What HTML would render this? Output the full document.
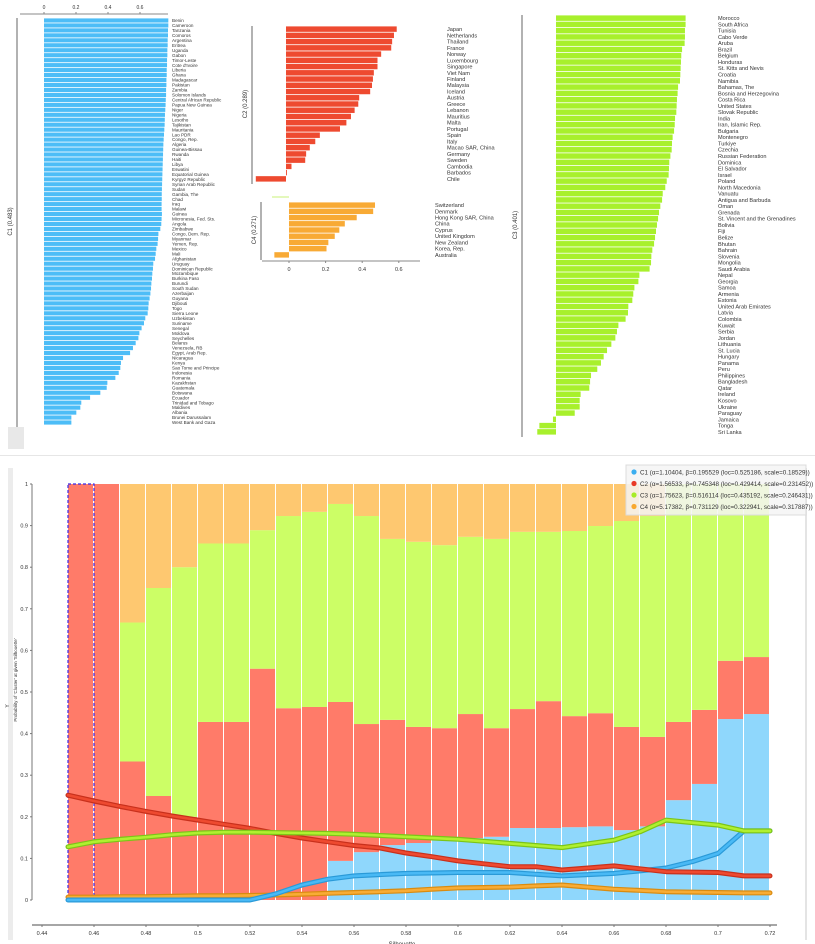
<!DOCTYPE html>
<html><head><meta charset="utf-8"><style>
html,body{margin:0;padding:0;background:#fff;}
svg{display:block;font-family:"Liberation Sans",sans-serif;}
</style></head><body>
<svg id="root" width="815" height="944" viewBox="0 0 815 944" xmlns="http://www.w3.org/2000/svg">
<rect x="0" y="0" width="815" height="944" fill="#fff"/>
<g id="topPanels"></g>
<rect x="0" y="455" width="815" height="1" fill="#e6e6e6"/>
<rect x="8" y="468" width="5" height="472" fill="#ececec"/>
<rect x="805" y="468" width="2" height="472" fill="#e4e4e4"/>
<g id="bottomChart"></g>
</svg>
<script>
const c1Names = ["Benin","Cameroon","Tanzania","Comoros","Argentina","Eritrea","Uganda","Gabon","Timor-Leste","Cote d'Ivoire","Liberia","Ghana","Madagascar","Pakistan","Zambia","Solomon Islands","Central African Republic","Papua New Guinea","Niger","Nigeria","Lesotho","Tajikistan","Mauritania","Lao PDR","Congo, Rep.","Algeria","Guinea-Bissau","Rwanda","Haiti","Libya","Eswatini","Equatorial Guinea","Kyrgyz Republic","Syrian Arab Republic","Sudan","Gambia, The","Chad","Iraq","Malawi","Guinea","Micronesia, Fed. Sts.","Angola","Zimbabwe","Congo, Dem. Rep.","Myanmar","Yemen, Rep.","Mexico","Mali","Afghanistan","Uruguay","Dominican Republic","Mozambique","Burkina Faso","Burundi","South Sudan","Azerbaijan","Guyana","Djibouti","Togo","Sierra Leone","Uzbekistan","Suriname","Senegal","Moldova","Seychelles","Belarus","Venezuela, RB","Egypt, Arab Rep.","Nicaragua","Kenya","Sao Tome and Principe","Indonesia","Romania","Kazakhstan","Guatemala","Botswana","Ecuador","Trinidad and Tobago","Maldives","Albania","Brunei Darussalam","West Bank and Gaza"];
const c1Values = [.777,.777,.775,.775,.773,.773,.771,.771,.769,.769,.767,.767,.765,.765,.763,.763,.761,.76,.758,.756,.755,.754,.752,.75,.748,.746,.745,.744,.743,.742,.741,.74,.739,.738,.737,.736,.736,.735,.735,.737,.735,.733,.727,.715,.713,.710,.702,.698,.694,.683,.681,.677,.675,.671,.669,.665,.660,.654,.652,.648,.633,.625,.610,.596,.590,.573,.556,.538,.494,.481,.477,.467,.446,.396,.392,.352,.288,.233,.227,.202,.171,.171];
const c2Names = ["Japan","Netherlands","Thailand","France","Norway","Luxembourg","Singapore","Viet Nam","Finland","Malaysia","Iceland","Austria","Greece","Lebanon","Mauritius","Malta","Portugal","Spain","Italy","Macao SAR, China","Germany","Sweden","Cambodia","Barbados","Chile"];
const c2Values = [.605,.59,.58,.575,.52,.5,.5,.48,.475,.47,.46,.40,.395,.375,.355,.33,.295,.185,.16,.13,.11,.105,.03,.005,-.165];
const c4Names = ["Switzerland","Denmark","Hong Kong SAR, China","China","Cyprus","United Kingdom","New Zealand","Korea, Rep.","Australia"];
const c4Values = [.47,.46,.37,.305,.275,.25,.215,.205,-.08];
const c3Names = ["Morocco","South Africa","Tunisia","Cabo Verde","Aruba","Brazil","Belgium","Honduras","St. Kitts and Nevis","Croatia","Namibia","Bahamas, The","Bosnia and Herzegovina","Costa Rica","United States","Slovak Republic","India","Iran, Islamic Rep.","Bulgaria","Montenegro","Turkiye","Czechia","Russian Federation","Dominica","El Salvador","Israel","Poland","North Macedonia","Vanuatu","Antigua and Barbuda","Oman","Grenada","St. Vincent and the Grenadines","Bolivia","Fiji","Belize","Bhutan","Bahrain","Slovenia","Mongolia","Saudi Arabia","Nepal","Georgia","Samoa","Armenia","Estonia","United Arab Emirates","Latvia","Colombia","Kuwait","Serbia","Jordan","Lithuania","St. Lucia","Hungary","Panama","Peru","Philippines","Bangladesh","Qatar","Ireland","Kosovo","Ukraine","Paraguay","Jamaica","Tonga","Sri Lanka"];
const c3Values = [.81,.81,.806,.806,.804,.788,.783,.781,.779,.777,.775,.763,.76,.756,.754,.752,.744,.742,.738,.729,.725,.723,.715,.708,.706,.704,.692,.683,.667,.663,.652,.644,.638,.631,.625,.619,.613,.602,.596,.594,.585,.521,.515,.49,.483,.477,.452,.45,.435,.39,.381,.371,.346,.319,.298,.281,.258,.219,.213,.208,.154,.148,.148,.117,-.019,-.104,-.117];
const topTicks = [0,0.2,0.4,0.6];
const topTickLabels = ["0","0.2","0.4","0.6"];

const binStarts = [.45,.46,.47,.48,.49,.50,.51,.52,.53,.54,.55,.56,.57,.58,.59,.60,.61,.62,.63,.64,.65,.66,.67,.68,.69,.70,.71];
const shareC1 = [0,0,0,0,0,0,0,0,0,0,.094,.115,.132,.137,.144,.149,.152,.173,.173,.175,.177,.168,.177,.24,.279,.435,.447];
const shareC2 = [1,1,.333,.25,.2,.428,.428,.556,.461,.464,.382,.308,.301,.279,.269,.298,.261,.286,.305,.267,.272,.248,.215,.188,.178,.14,.137];
const shareC3 = [0,0,.334,.5,.6,.429,.429,.333,.462,.469,.476,.5,.435,.445,.44,.426,.455,.426,.407,.445,.45,.495,.531,.572,.543,.425,.416];
const curveX = [.45,.46,.47,.48,.49,.50,.51,.52,.53,.54,.55,.56,.57,.58,.59,.60,.61,.62,.63,.64,.65,.66,.67,.68,.69,.70,.71,.72];
const curveC1 = [0,0,0,0,0,0,0,0,.015,.036,.05,.058,.061,.064,.065,.066,.066,.066,.062,.058,.061,.064,.07,.077,.092,.112,.166,.166];
const curveC2 = [.252,.238,.225,.213,.202,.192,.182,.172,.160,.149,.14,.131,.125,.113,.104,.094,.087,.08,.08,.072,.077,.082,.075,.068,.067,.066,.058,.058];
const curveC3 = [.128,.14,.146,.151,.157,.161,.163,.163,.162,.161,.16,.158,.155,.152,.149,.146,.141,.136,.131,.126,.135,.144,.164,.192,.186,.18,.166,.166];
const curveC4 = [.007,.007,.008,.008,.009,.01,.01,.011,.012,.014,.016,.018,.02,.022,.026,.029,.03,.031,.034,.036,.031,.026,.023,.02,.019,.018,.017,.017];
const xTicks = [.44,.46,.48,.50,.52,.54,.56,.58,.60,.62,.64,.66,.68,.70,.72];
const xTickLabels = ["0.44","0.46","0.48","0.5","0.52","0.54","0.56","0.58","0.6","0.62","0.64","0.66","0.68","0.7","0.72"];
const yTicks = [0,.1,.2,.3,.4,.5,.6,.7,.8,.9,1];
const yTickLabels = ["0","0.1","0.2","0.3","0.4","0.5","0.6","0.7","0.8","0.9","1"];
const legendLabels = ["C1 (\u03b1=1.10404, \u03b2=0.195529 (loc=0.525186, scale=0.18529))","C2 (\u03b1=1.56533, \u03b2=0.745348 (loc=0.429414, scale=0.231452))","C3 (\u03b1=1.75623, \u03b2=0.516114 (loc=0.435192, scale=0.246431))","C4 (\u03b1=5.17382, \u03b2=0.731129 (loc=0.322941, scale=0.317887))"];

const NS = "http://www.w3.org/2000/svg";
function mk(tag, attrs, parent) {
  const e = document.createElementNS(NS, tag);
  for (const k in attrs) e.setAttribute(k, attrs[k]);
  parent.appendChild(e);
  return e;
}
const topG = document.getElementById('topPanels');
const botG = document.getElementById('bottomChart');

function panel(names, values, cfg, key) {
  const g = mk('g', {}, topG);
  
  
  const n = names.length;
  const step = (cfg.y1 - cfg.y0) / n;
  const sx = v => cfg.zero + v * cfg.scale;
  for (let i = 0; i < n; i++) {
    const v = values[i];
    const x0 = Math.min(sx(0), sx(v)), w = Math.abs(sx(v) - sx(0));
    const r = mk('rect', {x: x0, y: cfg.y0 + i * step + 0.4, width: Math.max(w, 0.6), height: step - 0.8, fill: cfg.color}, g);
    
    
    const t = mk('text', {x: cfg.labelX, y: cfg.y0 + i * step + step / 2 + cfg.fs * 0.35, 'font-size': cfg.fs, fill: '#333'}, g);
    t.textContent = names[i];
    
    
  }
  const ax = mk('line', {x1: cfg.axisX, x2: cfg.axisX, y1: cfg.y0, y2: cfg.y1 + 2, stroke: '#999', 'stroke-width': 1.5}, g);
  
  
  const cy = (cfg.y0 + cfg.y1) / 2;
  const lab = mk('text', {x: cfg.axisX - 5, y: cy, 'font-size': 6, fill: '#333', 'text-anchor': 'middle', transform: 'rotate(-90 ' + (cfg.axisX - 5) + ' ' + cy + ')'}, g);
  lab.textContent = cfg.title;
  
  
  return sx;
}

const sx1 = panel(c1Names, c1Values, {zero: 44, scale: 160, y0: 18, y1: 425, color: '#4dbdf7', labelX: 172, fs: 4.6, axisX: 17, title: 'C1 (0.483)'}, 'c1');
const sx2 = panel(c2Names, c2Values, {zero: 286, scale: 183, y0: 26, y1: 182, color: '#ee4a30', labelX: 447, fs: 5.6, axisX: 252, title: 'C2 (0.289)'}, 'c2');
const sx4 = panel(c4Names, c4Values, {zero: 289, scale: 183, y0: 202, y1: 258, color: '#f8aa35', labelX: 435, fs: 5.6, axisX: 261, title: 'C4 (0.271)'}, 'c4');
const sx3 = panel(c3Names, c3Values, {zero: 556, scale: 160, y0: 15, y1: 435, color: '#a8f02c', labelX: 718, fs: 5.6, axisX: 522, title: 'C3 (0.401)'}, 'c3');

const a1 = mk('line', {x1: 20, x2: 168, y1: 14, y2: 14, stroke: '#888', 'stroke-width': 1}, topG);


topTicks.forEach((v, i) => {
  mk('line', {x1: sx1(v), x2: sx1(v), y1: 12, y2: 14, stroke: '#888'}, topG);
  const t = mk('text', {x: sx1(v), y: 9, 'font-size': 5, fill: '#333', 'text-anchor': 'middle'}, topG);
  t.textContent = topTickLabels[i];
  
  
});
const a4 = mk('line', {x1: 262, x2: 420, y1: 261, y2: 261, stroke: '#888', 'stroke-width': 1}, topG);


topTicks.forEach((v, i) => {
  mk('line', {x1: sx4(v), x2: sx4(v), y1: 261, y2: 263, stroke: '#888'}, topG);
  const t = mk('text', {x: sx4(v), y: 271, 'font-size': 5.5, fill: '#333', 'text-anchor': 'middle'}, topG);
  t.textContent = topTickLabels[i];
  
  
});
mk('line', {x1: 272, x2: 289, y1: 197, y2: 197, stroke: '#c8f07a', 'stroke-width': 1}, topG);
mk('rect', {x: 8, y: 427, width: 16, height: 22, fill: '#e8e8e8'}, topG);

const X = v => 42 + (v - 0.44) * 2600;
const Y = v => 900 - v * 416;
const binW = 0.01;
for (let i = 0; i < binStarts.length; i++) {
  const x0 = X(binStarts[i]), w = X(binStarts[i] + binW) - x0;
  const c4 = 1 - shareC1[i] - shareC2[i] - shareC3[i];
  const parts = [[shareC1[i], '#8fd7fc', 'c1'], [shareC2[i], '#ff7b69', 'c2'], [shareC3[i], '#ccfe66', 'c3'], [c4, '#fec870', 'c4']];
  let cum = 0;
  parts.forEach(p => {
    if (p[0] > 0.0005) {
      const r = mk('rect', {x: x0, y: Y(cum + p[0]), width: w - 1, height: Y(cum) - Y(cum + p[0]), fill: p[1]}, botG);
      
      
    }
    cum += p[0];
  });
}
const sel = mk('rect', {x: X(.45), y: Y(1), width: X(.46) - X(.45), height: Y(0) - Y(1), fill: 'none', stroke: '#3a2ae8', 'stroke-width': 1.2, 'stroke-dasharray': '3,2'}, botG);



function curve(vals, dark, light, key) {
  const pts = curveX.map((x, i) => X(x).toFixed(1) + ',' + Y(vals[i]).toFixed(1)).join(' ');
  const a = mk('polyline', {points: pts, fill: 'none', stroke: dark, 'stroke-width': 5, 'stroke-linejoin': 'round', 'stroke-linecap': 'round'}, botG);
  
  
  const b = mk('polyline', {points: pts, fill: 'none', stroke: light, 'stroke-width': 2.6, 'stroke-linejoin': 'round', 'stroke-linecap': 'round'}, botG);
  
  
}
curve(curveC4, '#d98b10', '#f8ac35', 'c4');
curve(curveC1, '#2a9ad8', '#49b9f5', 'c1');
curve(curveC2, '#c8301c', '#ee4a30', 'c2');
curve(curveC3, '#7cc418', '#b0f030', 'c3');

const yax = mk('line', {x1: 32, x2: 32, y1: Y(1), y2: Y(0), stroke: '#777', 'stroke-width': 1}, botG);


yTicks.forEach((v, i) => {
  mk('line', {x1: 30, x2: 32, y1: Y(v), y2: Y(v), stroke: '#777'}, botG);
  const t = mk('text', {x: 28, y: Y(v) + 2, 'font-size': 5.5, fill: '#333', 'text-anchor': 'end'}, botG);
  t.textContent = yTickLabels[i];
  
  
});
const xax = mk('line', {x1: 32, x2: 777, y1: 925, y2: 925, stroke: '#888', 'stroke-width': 1.5}, botG);


xTicks.forEach((v, i) => {
  mk('line', {x1: X(v), x2: X(v), y1: 925, y2: 927, stroke: '#777'}, botG);
  const t = mk('text', {x: X(v), y: 935, 'font-size': 5.5, fill: '#333', 'text-anchor': 'middle'}, botG);
  t.textContent = xTickLabels[i];
  
  
});
const xt = mk('text', {x: 402, y: 946, 'font-size': 6, fill: '#333', 'text-anchor': 'middle'}, botG);
xt.textContent = 'Silhouette';


const yt = mk('text', {x: 17, y: 680, 'font-size': 4.5, fill: '#333', 'text-anchor': 'middle', transform: 'rotate(-90 17 680)'}, botG);
yt.textContent = "Probability of 'Cluster' at given 'Silhouette'";


const yy = mk('text', {x: 9, y: 706, 'font-size': 5, fill: '#333', 'text-anchor': 'middle', transform: 'rotate(-90 9 706)'}, botG);
yy.textContent = 'Y';



const lg = mk('g', {}, botG);


mk('rect', {x: 626, y: 465, width: 180, height: 50, fill: 'rgba(244,244,244,0.85)', stroke: '#dcdcdc'}, lg);
const legColors = ['#3aaef0', '#e83a28', '#a6ec2a', '#f8a830'];
legendLabels.forEach((s, i) => {
  const c = mk('circle', {cx: 634, cy: 472 + i * 11.5, r: 2.6, fill: legColors[i]}, lg);
  
  
  const t = mk('text', {x: 640, y: 474.3 + i * 11.5, 'font-size': 6.3, fill: '#333'}, lg);
  t.textContent = s;
  
  
});
</script>
</body></html>
